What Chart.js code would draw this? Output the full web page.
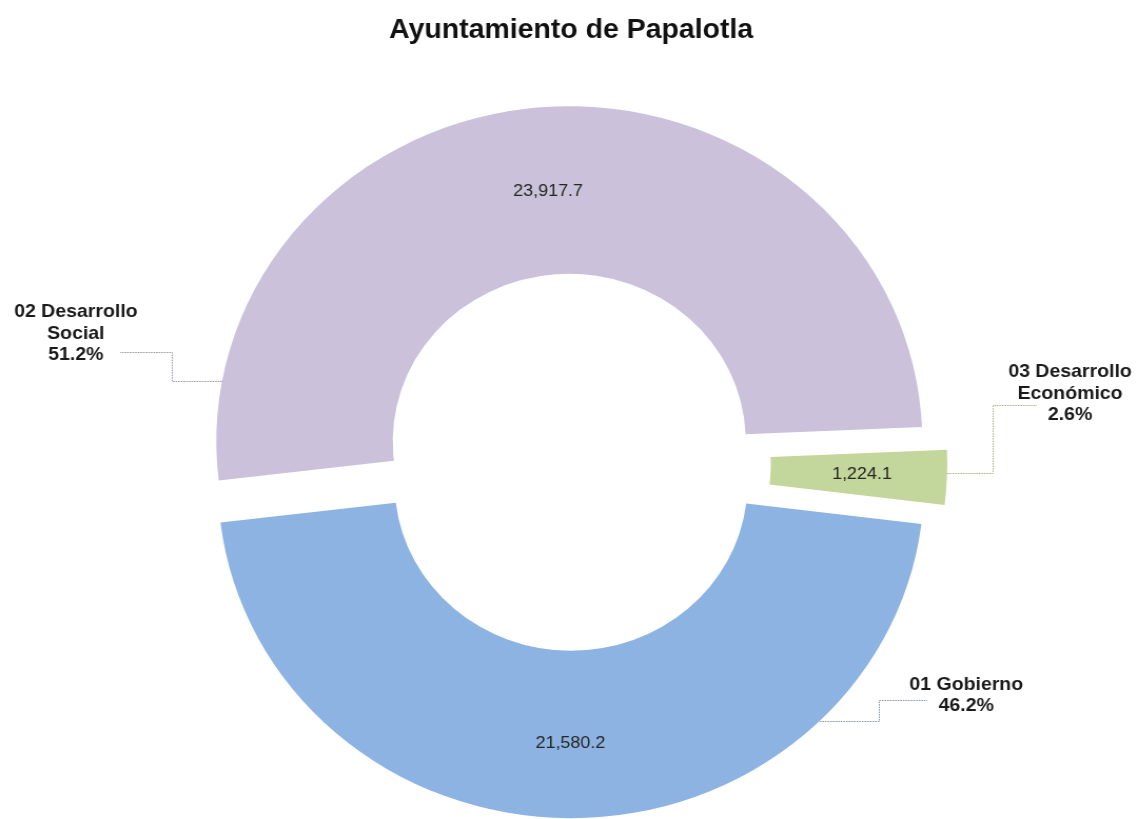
<!DOCTYPE html>
<html>
<head>
<meta charset="utf-8">
<script src="https://cdn.jsdelivr.net/npm/chart.js@4.4.1/dist/chart.umd.min.js"></script>
<style>
  html, body { margin: 0; padding: 0; background: #ffffff; overflow: hidden; }
  #wrap { position: absolute; left: 0; top: 0; width: 1080px; height: 819px;
          transform: scaleX(1.0537); transform-origin: 0 0; }
</style>
</head>
<body>
<div id="wrap"><canvas id="c"></canvas></div>
<script>
// ---- data ----
const titleText = 'Ayuntamiento de Papalotla';
const categories = ['01 Gobierno', '02 Desarrollo Social', '03 Desarrollo Económico'];
const categoryLines = [['01 Gobierno'], ['02 Desarrollo', 'Social'], ['03 Desarrollo', 'Económico']];
const values = [21580.2, 23917.7, 1224.1];

// ---- styles ----
const FONT = '"Liberation Sans", Arial, Helvetica, sans-serif';
const sliceColors = ['#8DB3E2', '#CBC1DA', '#C3D69B'];
const leaderColors = ['#7F93B3', '#9A92A8', '#A3B47E'];

function fmt(v) {
  const parts = v.toFixed(1).split('.');
  return parts[0].replace(/\B(?=(\d{3})+(?!\d))/g, ',') + '.' + parts[1];
}

const explodePlugin = {
  id: 'explodeLabels',
  beforeDatasetDraw(chart, args, opts) {
    const ctx = chart.ctx;
    args.meta.data.forEach((arc, i) => {
      const mid = (arc.startAngle + arc.endAngle) / 2;
      const d = opts.distances[i] || 0;
      ctx.save();
      ctx.translate(Math.cos(mid) * d, Math.sin(mid) * d);
      arc.draw(ctx, chart.chartArea);
      ctx.restore();
    });
    return false;
  },
  afterDatasetsDraw(chart, args, opts) {
    const ctx = chart.ctx;
    const meta = chart.getDatasetMeta(0);
    const total = values.reduce((a, b) => a + b, 0);
    meta.data.forEach((arc, i) => {
      const p = arc.getProps(['x', 'y', 'startAngle', 'endAngle', 'innerRadius', 'outerRadius'], true);
      const mid = (p.startAngle + p.endAngle) / 2;
      const d = opts.distances[i] || 0;
      const cx = p.x + Math.cos(mid) * d;
      const cy = p.y + Math.sin(mid) * d;
      const rr = (p.innerRadius + p.outerRadius) / 2 + (opts.labelShift[i] || 0);

      // value label inside slice
      ctx.save();
      ctx.font = '17px ' + FONT;
      ctx.fillStyle = '#262626';
      ctx.textAlign = 'center';
      ctx.textBaseline = 'middle';
      ctx.fillText(fmt(values[i]), cx + Math.cos(mid) * rr, cy + Math.sin(mid) * rr);
      ctx.restore();

      // leader line
      const L = opts.layout[i];
      const dy = L.leaderY - cy;
      const sx = cx + L.side * Math.sqrt(Math.max(0, p.outerRadius * p.outerRadius - dy * dy));
      ctx.save();
      ctx.strokeStyle = leaderColors[i];
      ctx.lineWidth = 1;
      ctx.setLineDash([1.5, 1]);
      ctx.beginPath();
      ctx.moveTo(sx, L.leaderY + 0.5);
      ctx.lineTo(L.elbowX + 0.5, L.leaderY + 0.5);
      ctx.lineTo(L.elbowX + 0.5, L.topY + 0.5);
      ctx.lineTo(L.endX, L.topY + 0.5);
      ctx.stroke();
      ctx.restore();

      // category label
      const lines = categoryLines[i].concat([(values[i] / total * 100).toFixed(1) + '%']);
      ctx.save();
      ctx.font = 'bold 18.5px ' + FONT;
      ctx.fillStyle = '#1a1a1a';
      ctx.textAlign = 'center';
      ctx.textBaseline = 'middle';
      lines.forEach((t, k) => ctx.fillText(t, L.tx, L.ty0 + k * L.lh));
      ctx.restore();
    });
  }
};

new Chart(document.getElementById('c'), {
  type: 'doughnut',
  data: {
    labels: categories,
    datasets: [{
      data: values,
      backgroundColor: sliceColors,
      borderWidth: 0,
      hoverOffset: 0
    }]
  },
  options: {
    responsive: true,
    maintainAspectRatio: false,
    animation: false,
    rotation: 97,
    radius: 335,
    cutout: '50%',
    layout: { padding: { left: 4, right: 0, top: 0, bottom: 0 } },
    plugins: {
      legend: { display: false },
      tooltip: { enabled: false },
      title: {
        display: true,
        text: titleText,
        color: '#111111',
        font: { family: FONT, size: 27, weight: 'bold' },
        padding: { top: 14, bottom: 61 }
      },
      explodeLabels: {
        distances: [20, 22, 22],
        labelShift: [9, 0, 3],
        layout: [
          { tx: 917, ty0: 685, lh: 20.5, leaderY: 721, side: 1, elbowX: 834, topY: 700, endX: 880 },
          { tx: 72, ty0: 312, lh: 21.5, leaderY: 381, side: -1, elbowX: 163, topY: 352, endX: 114 },
          { tx: 1015.5, ty0: 372, lh: 21.5, leaderY: 473, side: 1, elbowX: 942, topY: 405, endX: 984 }
        ]
      }
    }
  },
  plugins: [explodePlugin]
});
</script>
</body>
</html>
